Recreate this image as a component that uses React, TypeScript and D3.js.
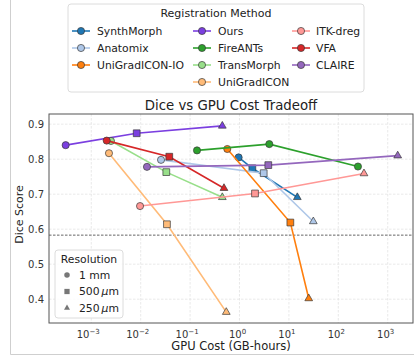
import React from "react";
import * as d3 from "d3";

// cost in GB-hours, dice score; order 1 mm, 500 um, 250 um
const methodNames = ["SynthMorph", "Anatomix", "UniGradICON-IO", "Ours", "FireANTs", "TransMorph", "UniGradICON", "ITK-dreg", "VFA", "CLAIRE"];
const methodColors = ["#1f77b4", "#aec7e8", "#ff7f0e", "#7b3fe0", "#2ca02c", "#98df8a", "#ffbb78", "#ff9896", "#d62728", "#9467bd"];

const synthMorphCost = [0.96, 1.82, 14.8];
const synthMorphDice = [0.805, 0.774, 0.691];
const anatomixCost = [0.0258, 3.09, 31.2];
const anatomixDice = [0.798, 0.76, 0.622];
const uniGradIconIoCost = [0.566, 10.7, 25.2];
const uniGradIconIoDice = [0.829, 0.619, 0.402];
const oursCost = [0.000303, 0.0083, 0.449];
const oursDice = [0.84, 0.874, 0.895];
const fireantsCost = [0.138, 4.01, 250];
const fireantsDice = [0.825, 0.843, 0.779];
const transMorphCost = [0.0025, 0.033, 0.449];
const transMorphDice = [0.852, 0.763, 0.691];
const uniGradIconCost = [0.00228, 0.034, 0.54];
const uniGradIconDice = [0.817, 0.614, 0.363];
const itkCost = [0.0097, 2.06, 331];
const itkDice = [0.666, 0.702, 0.759];
const vfaCost = [0.00205, 0.0379, 0.485];
const vfaDice = [0.853, 0.807, 0.717];
const claireCost = [0.0134, 3.83, 1593];
const claireDice = [0.778, 0.783, 0.81];

const resolutionShapes = ["circle", "square", "triangle"];
const fireantsShapes = ["circle", "circle", "circle"];
const resolutionLabels = ["1 mm", "500", "250"];

const yTicks = [0.4, 0.5, 0.6, 0.7, 0.8, 0.9];
const xTickExps = [-3, -2, -1, 0, 1, 2, 3];
const threshold = 0.583;

const series = [
  { cost: synthMorphCost, dice: synthMorphDice, shapes: resolutionShapes },
  { cost: anatomixCost, dice: anatomixDice, shapes: resolutionShapes },
  { cost: uniGradIconIoCost, dice: uniGradIconIoDice, shapes: resolutionShapes },
  { cost: oursCost, dice: oursDice, shapes: resolutionShapes },
  { cost: fireantsCost, dice: fireantsDice, shapes: fireantsShapes },
  { cost: transMorphCost, dice: transMorphDice, shapes: resolutionShapes },
  { cost: uniGradIconCost, dice: uniGradIconDice, shapes: resolutionShapes },
  { cost: itkCost, dice: itkDice, shapes: resolutionShapes },
  { cost: vfaCost, dice: vfaDice, shapes: resolutionShapes },
  { cost: claireCost, dice: claireDice, shapes: resolutionShapes },
].map((s, i) => ({ ...s, name: methodNames[i], color: methodColors[i] }));

const FONT = "DejaVu Sans, sans-serif";
const W = 414;
const H = 356;
const plot = { left: 49, right: 413, top: 114, bottom: 323 };

const symbolTypes: Record<string, d3.SymbolType> = {
  circle: d3.symbolCircle,
  square: d3.symbolSquare,
  triangle: d3.symbolTriangle,
};
const symbolSizes: Record<string, number> = { circle: 40, square: 46, triangle: 26 };
const sym = (shape: string, scale = 1) =>
  d3.symbol().type(symbolTypes[shape]).size(symbolSizes[shape] * scale)() as string;

const App = () => {
  const x = d3.scaleLog().domain([Math.pow(10, -3.856), Math.pow(10, 3.512)]).range([plot.left, plot.right]);
  const y = d3.scaleLinear().domain([0.332, 0.929]).range([plot.bottom, plot.top]);
  const line = d3
    .line<number>()
    .x((d) => d);

  const legendCols = [
    { hx: 72, tx: 97, items: [0, 1, 2] },
    { hx: 193, tx: 218, items: [3, 4, 5, 6] },
    { hx: 292, tx: 316, items: [7, 8, 9] },
  ];
  const rowY = [31, 48, 65, 82];

  return (
    <svg width={W} height={H} style={{ position: "absolute", left: 0, top: 0, background: "#fff" }} fontFamily={FONT}>
      <defs>
        <clipPath id="plotclip">
          <rect x={plot.left} y={plot.top} width={plot.right - plot.left} height={plot.bottom - plot.top} />
        </clipPath>
      </defs>
      {/* figure frame */}
      <line x1={10.5} y1={0} x2={10.5} y2={354.5} stroke="#cfcfcf" />
      <line x1={10.5} y1={354.5} x2={W} y2={354.5} stroke="#cfcfcf" />

      {/* grid */}
      {xTickExps.map((e) => (
        <line key={"gx" + e} x1={x(Math.pow(10, e))} x2={x(Math.pow(10, e))} y1={plot.top} y2={plot.bottom}
          stroke="#e3e3e3" strokeWidth={0.8} strokeDasharray="2.5,1.5" />
      ))}
      {yTicks.map((t) => (
        <line key={"gy" + t} x1={plot.left} x2={plot.right} y1={y(t)} y2={y(t)}
          stroke="#e3e3e3" strokeWidth={0.8} strokeDasharray="2.5,1.5" />
      ))}

      {/* threshold */}
      <line x1={plot.left} x2={plot.right} y1={y(threshold)} y2={y(threshold)} stroke="#555" strokeWidth={0.9} strokeDasharray="2.5,1.5" />

      {/* series */}
      <g clipPath="url(#plotclip)">
        {series.map((s) => {
          const pts = s.cost.map((c, i) => [x(c), y(s.dice[i])] as [number, number]);
          return (
            <g key={s.name}>
              <path d={d3.line()(pts) as string} fill="none" stroke={s.color} strokeWidth={1.6} />
              {pts.map((p, i) => (
                <path key={i} d={sym(s.shapes[i])} transform={`translate(${p[0]},${p[1]})`}
                  fill={s.color} stroke="#3a3a3a" strokeWidth={0.7} />
              ))}
            </g>
          );
        })}
      </g>

      {/* spines */}
      <rect x={plot.left} y={plot.top} width={plot.right - plot.left} height={plot.bottom - plot.top}
        fill="none" stroke="#555" strokeWidth={1} />

      {/* ticks */}
      {yTicks.map((t) => (
        <text key={"ty" + t} x={44} y={y(t)} dy="0.35em" textAnchor="end" fontSize={10} fill="#333">{t.toFixed(1)}</text>
      ))}
      {xTickExps.map((e) => (
        <text key={"tx" + e} x={x(Math.pow(10, e)) - (e < 0 ? 3 : 2)} y={338} textAnchor="middle" fontSize={10} fill="#333">
          10<tspan fontSize={7} dy={-4}>{e < 0 ? "\u2212" + Math.abs(e) : String(e)}</tspan>
        </text>
      ))}

      <text x={(plot.left + plot.right) / 2} y={110} textAnchor="middle" fontSize={13.3} fill="#222">Dice vs GPU Cost Tradeoff</text>
      <text x={(plot.left + plot.right) / 2} y={350} textAnchor="middle" fontSize={11.5} fill="#222">GPU Cost (GB-hours)</text>
      <text transform={`translate(23,${(plot.top + plot.bottom) / 2 - 4}) rotate(-90)`} textAnchor="middle" fontSize={11} fill="#222">Dice Score</text>

      {/* method legend */}
      <rect x={68} y={4} width={296} height={88} rx={3} fill="#fff" fillOpacity={0.85} stroke="#dcdcdc" />
      <text x={216} y={17} textAnchor="middle" fontSize={11} fill="#222">Registration Method</text>
      {legendCols.map((col) =>
        col.items.map((idx, r) => {
          const s = series[idx];
          const yy = rowY[r];
          return (
            <g key={s.name}>
              <line x1={col.hx} x2={col.hx + 18} y1={yy} y2={yy} stroke={s.color} strokeWidth={1.6} />
              <path d={sym("circle")} transform={`translate(${col.hx + 9},${yy})`} fill={s.color} stroke="#3a3a3a" strokeWidth={0.7} />
              <text x={col.tx} y={yy} dy="0.35em" fontSize={10.8} fill="#222">{s.name}</text>
            </g>
          );
        })
      )}

      {/* resolution legend */}
      <rect x={55} y={250} width={68} height={68} rx={3} fill="#fff" fillOpacity={0.85} stroke="#dcdcdc" />
      <text x={89} y={259} dy="0.35em" textAnchor="middle" fontSize={10.8} fill="#222">Resolution</text>
      {resolutionShapes.map((shape, i) => {
        const yy = 275 + i * 16.5;
        return (
          <g key={shape}>
            <path d={sym(shape, 0.6)} transform={`translate(67,${yy})`} fill="#777" />
            <text x={79} y={yy} dy="0.35em" fontSize={10.8} fill="#222">
              {i === 0 ? resolutionLabels[0] : (
                <>
                  {resolutionLabels[i]}
                  <tspan dx={2} fontStyle="italic">μ</tspan>m
                </>
              )}
            </text>
          </g>
        );
      })}
    </svg>
  );
};

export default App;
